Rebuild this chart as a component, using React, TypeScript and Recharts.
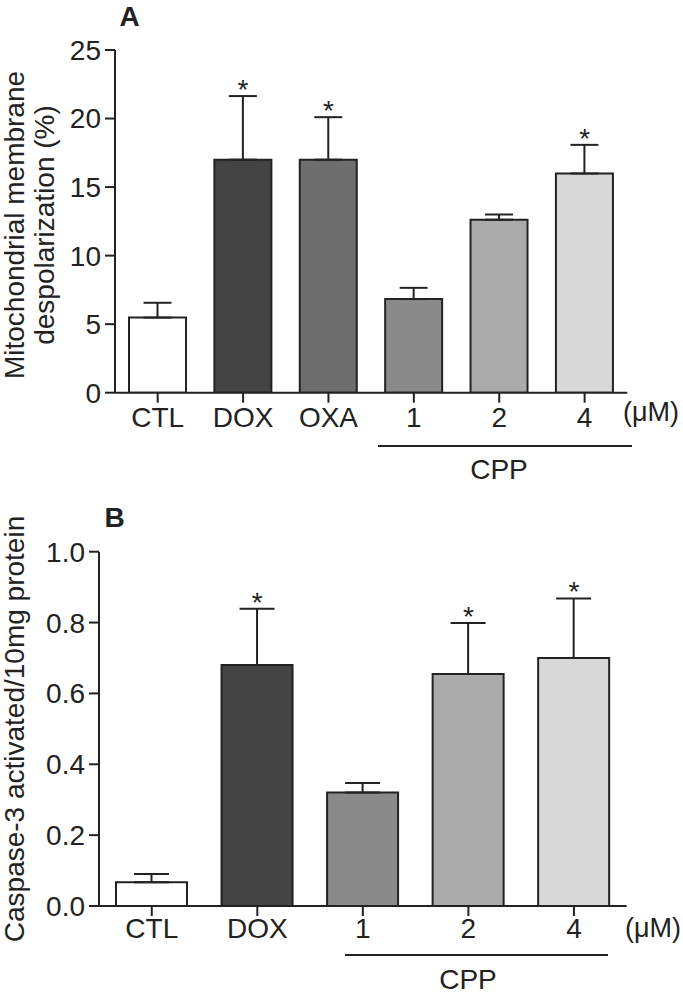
import React from 'react';
import { ComposedChart, Bar, Cell, ErrorBar, XAxis, YAxis, Line, LabelList } from 'recharts';

const FONT = '"Liberation Sans", Arial, Helvetica, sans-serif';
const INK = '#222222';

// Panel A
const catsA = ['CTL', 'DOX', 'OXA', '1', '2', '4'];
const valsA = [5.48, 17.0, 17.0, 6.83, 12.62, 15.99];
const errsA = [1.08, 4.64, 3.1, 0.82, 0.38, 2.09];
const sigA = [false, true, true, false, false, true];
const colorsA = ['#ffffff', '#444444', '#6e6e6e', '#8a8a8a', '#aaaaaa', '#d8d8d8'];
const ticksA = [0, 5, 10, 15, 20, 25];

// Panel B
const catsB = ['CTL', 'DOX', '1', '2', '4'];
const valsB = [0.067, 0.68, 0.32, 0.655, 0.7];
const errsB = [0.023, 0.159, 0.027, 0.144, 0.168];
const sigB = [false, true, false, true, true];
const colorsB = ['#ffffff', '#444444', '#8a8a8a', '#aaaaaa', '#d8d8d8'];
const ticksB = [0, 0.2, 0.4, 0.6, 0.8, 1.0];

const build = (cats: string[], vals: number[], errs: number[], sig: boolean[]) =>
  cats.map((c, i) => ({
    cat: c,
    value: vals[i],
    err: [0, errs[i]],
    top: vals[i] + errs[i],
    star: sig[i] ? '*' : '',
  }));

const dataA = build(catsA, valsA, errsA, sigA);
const dataB = build(catsB, valsB, errsB, sigB);

const tickStyle = { fontSize: 28, fill: INK, fontFamily: FONT };
const lineStyle = { stroke: INK, strokeWidth: 2 };

const Star = (p: any) => {
  if (!p.value) return null;
  return (
    <text x={p.x} y={p.y + 3} textAnchor="middle" fontSize={28} fontFamily={FONT} fill={INK}>
      {p.value}
    </text>
  );
};

type PanelProps = {
  data: any[];
  colors: string[];
  ticks: number[];
  domain: [number, number];
  height: number;
  margin: { top: number; right: number; left: number; bottom: number };
  yWidth: number;
  xHeight: number;
  barSize: number;
  capHalf: number;
  tickMargin: number;
  fmt?: (v: number) => string;
};

const Panel = ({ data, colors, ticks, domain, height, margin, yWidth, xHeight, barSize, capHalf, tickMargin, fmt }: PanelProps) => (
  <ComposedChart width={683} height={height} data={data} margin={margin}>
    <XAxis
      dataKey="cat"
      interval={0}
      height={xHeight}
      tickSize={10}
      tickMargin={tickMargin}
      tick={tickStyle}
      axisLine={lineStyle}
      tickLine={lineStyle}
    />
    <XAxis xAxisId="top" dataKey="cat" orientation="top" height={0} tick={false} tickLine={false} axisLine={lineStyle} />
    <YAxis
      type="number"
      domain={domain}
      ticks={ticks}
      width={yWidth}
      tickSize={10}
      tickMargin={4}
      tick={tickStyle}
      tickFormatter={fmt}
      axisLine={lineStyle}
      tickLine={lineStyle}
      allowDataOverflow
    />
    <YAxis yAxisId="right" orientation="right" width={0} domain={[0, 1]} tick={false} tickLine={false} axisLine={lineStyle} />
    <Bar dataKey="value" barSize={barSize} stroke={INK} strokeWidth={2} isAnimationActive={false}>
      {data.map((d, i) => (
        <Cell key={d.cat} fill={colors[i]} />
      ))}
      <ErrorBar dataKey="err" direction="y" width={capHalf} stroke={INK} strokeWidth={2} isAnimationActive={false} />
    </Bar>
    <Line dataKey="top" stroke="transparent" dot={false} activeDot={false} isAnimationActive={false} legendType="none">
      <LabelList dataKey="star" content={Star} />
    </Line>
  </ComposedChart>
);

export default function App() {
  return (
    <div style={{ position: 'absolute', left: 0, top: 0, width: 683, height: 995, background: '#fff', fontFamily: FONT }}>
      <div style={{ position: 'absolute', left: 0, top: 0 }}>
        <Panel
          data={dataA}
          colors={colorsA}
          ticks={ticksA}
          domain={[0, 25]}
          height={495}
          margin={{ top: 50, right: 55.7, left: 0, bottom: 0 }}
          yWidth={115}
          xHeight={102.3}
          barSize={57}
          capHalf={14}
          tickMargin={4}
        />
      </div>
      <div style={{ position: 'absolute', left: 0, top: 495 }}>
        <Panel
          data={dataB}
          colors={colorsB}
          ticks={ticksB}
          domain={[0, 1]}
          height={500}
          margin={{ top: 56.7, right: 56.3, left: 0, bottom: 0 }}
          yWidth={99}
          xHeight={89}
          barSize={71}
          capHalf={17.5}
          tickMargin={2}
          fmt={(v: number) => v.toFixed(1)}
        />
      </div>
      <svg
        width={683}
        height={995}
        style={{ position: 'absolute', left: 0, top: 0, pointerEvents: 'none' }}
        fontFamily={FONT}
        fill={INK}
      >
        <text x={129.5} y={25.5} textAnchor="middle" fontSize={28} fontWeight="bold">A</text>
        <text x={114.7} y={527} textAnchor="middle" fontSize={28} fontWeight="bold">B</text>

        <text transform="translate(23.5,225) rotate(-90)" textAnchor="middle" fontSize={28}>Mitochondrial membrane</text>
        <text transform="translate(54,225) rotate(-90)" textAnchor="middle" fontSize={28}>despolarization (%)</text>
        <text transform="translate(24,729) rotate(-90)" textAnchor="middle" fontSize={28}>Caspase-3 activated/10mg protein</text>

        <text x={651} y={421} textAnchor="middle" fontSize={27}>(μM)</text>
        <line x1={378} x2={632} y1={446} y2={446} stroke={INK} strokeWidth={2} />
        <text x={499} y={479} textAnchor="middle" fontSize={28}>CPP</text>

        <text x={653} y={937} textAnchor="middle" fontSize={27}>(μM)</text>
        <line x1={345} x2={608} y1={955} y2={955} stroke={INK} strokeWidth={2} />
        <text x={468} y={989} textAnchor="middle" fontSize={28}>CPP</text>
      </svg>
    </div>
  );
}
